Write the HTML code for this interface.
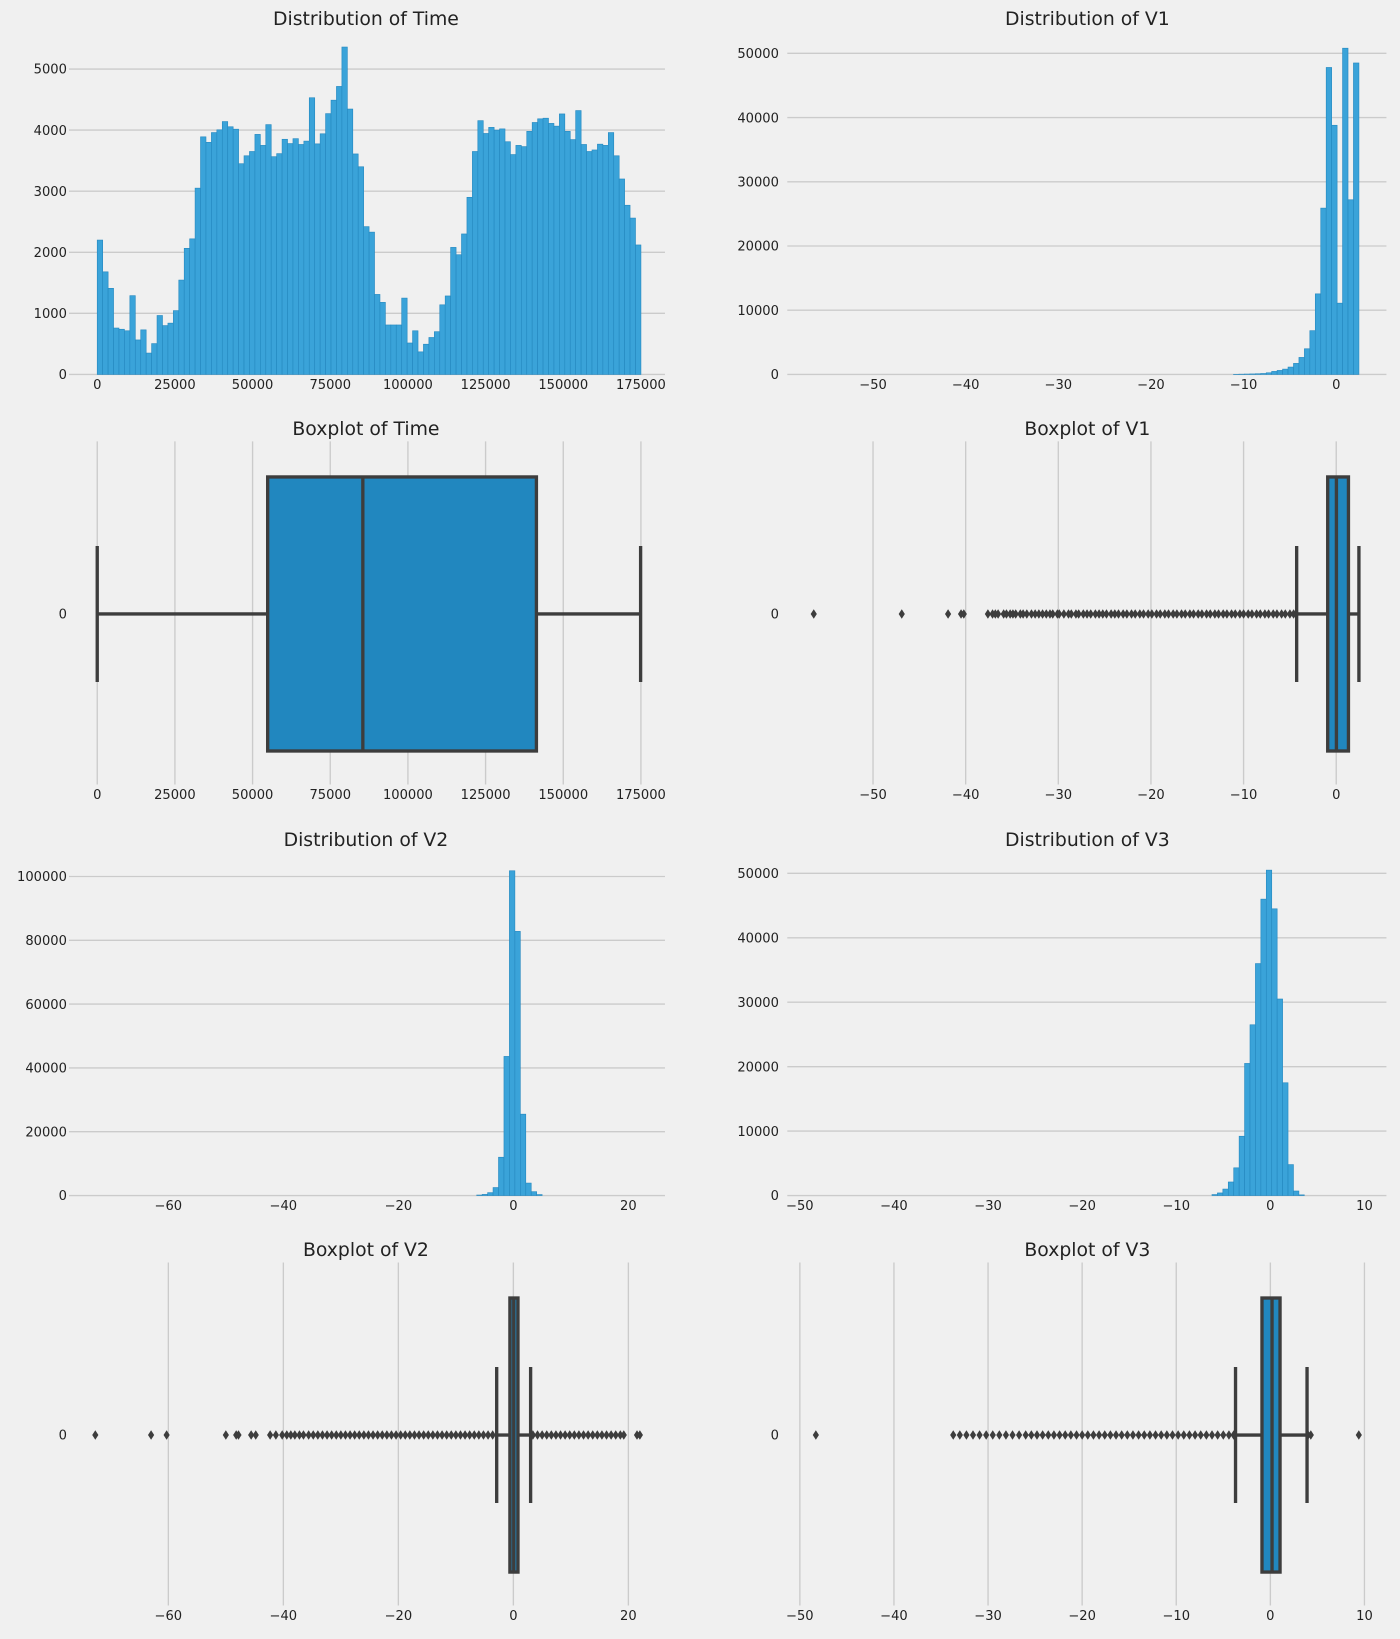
<!DOCTYPE html>
<html><head><meta charset="utf-8"><style>
html,body{margin:0;padding:0;background:#f0f0f0;}
svg{display:block;font-family:"DejaVu Sans","Liberation Sans",sans-serif;}
</style></head><body>
<svg id="chart" width="1400" height="1639" viewBox="0 0 1339 1567" preserveAspectRatio="none" xmlns="http://www.w3.org/2000/svg">
<rect x="0" y="0" width="1339" height="1567" fill="#f0f0f0"/>
</svg>
<script>
// ---- data ----
const timeCounts = [2200,1680,1410,760,740,715,1290,565,730,350,
505,965,800,840,1045,1545,2065,2220,3050,3890,
3800,3960,4005,4140,4055,4015,3450,3580,3650,3930,
3750,4090,3565,3615,3850,3780,3860,3765,3820,4530,
3775,3940,4270,4490,4715,5360,4345,3610,3400,2420,
2330,1310,1180,810,810,810,1250,515,715,370,
495,605,700,1140,1285,2080,1960,2300,2900,3650,
4155,3945,4045,4000,4020,3810,3600,3750,3730,3980,
4125,4185,4195,4110,4065,4265,3980,3845,4320,3765,
3650,3675,3770,3750,3960,3580,3200,2770,2560,2120];
const timeRange = [0, 175000];
const v1Counts = [0,0,0,0,0,0,0,0,0,0,
0,0,0,0,0,0,0,0,0,0,
0,0,0,0,0,0,0,0,0,0,
0,0,0,0,0,0,0,0,0,0,
0,0,0,0,0,0,0,0,0,0,
0,0,0,0,0,0,0,0,0,0,
0,0,0,0,0,0,0,0,0,0,
0,0,0,0,0,0,0,20,40,60,
80,110,150,260,470,625,830,1150,1720,2650,
4000,6820,12550,25900,47800,38800,11100,50800,27200,48500];
const v1Range = [-56.41, 2.45];
const v2Counts = [0,0,0,0,0,0,0,0,0,0,
0,0,0,0,0,0,0,0,0,0,
0,0,0,0,0,0,0,0,0,0,
0,0,0,0,0,0,0,0,0,0,
0,0,0,0,0,0,0,0,0,0,
0,0,0,0,0,0,0,0,0,0,
0,0,0,0,0,0,0,0,0,0,
150,350,900,2500,12000,43600,101800,82800,25500,3900,
1200,300,0,0,0,0,0,0,0,0,
0,0,0,0,0,0,0,0,0,0];
const v2Range = [-72.72, 22.06];
const v3Counts = [0,0,0,0,0,0,0,0,0,0,
0,0,0,0,0,0,0,0,0,0,
0,0,0,0,0,0,0,0,0,0,
0,0,0,0,0,0,0,0,0,0,
0,0,0,0,0,0,0,0,0,0,
0,0,0,0,0,0,0,0,0,0,
0,0,0,0,0,0,0,0,0,0,
0,0,0,150,400,1000,2100,4300,9200,20500,
26500,36000,46000,50500,44500,30500,17500,4800,700,100,
0,0,0,0,0,0,0,0,0,0];
const v3Range = [-48.33, 9.38];

const timeBox = [0, 54860, 85490, 141360, 174900];
const v1Box = [-4.27, -0.92, 0.02, 1.32, 2.45];
const v2Box = [-2.9, -0.6, 0.07, 0.8, 3.0];
const v3Box = [-3.7, -0.89, 0.18, 1.03, 3.9];

const v1Outliers = [-56.4,-46.9,-41.9,-40.5,-40.2,-37.6,-37.1,-36.8,-36.5,-35.9,-35.6,-35.2,-34.9,-34.6,-34.1,-33.8,-33.4,-32.9,-32.5,-32.1,-31.7,-31.3,-30.9,-30.6,-30.1,-29.9,-29.4,-28.9,-28.6,-28.1,-27.8,-27.3,-26.9,-26.5,-26.0,-25.6,-25.2,-24.8,-24.3,-23.9,-23.5,-23.0,-22.6,-22.1,-21.7,-21.2,-20.8,-20.3,-19.9,-19.4,-19.0,-18.5,-18.1,-17.6,-17.2,-16.7,-16.3,-15.8,-15.4,-14.9,-14.5,-14.0,-13.6,-13.1,-12.7,-12.2,-11.8,-11.3,-10.9,-10.4,-10.0,-9.5,-9.1,-8.6,-8.2,-7.7,-7.3,-6.8,-6.4,-5.9,-5.5,-5.0,-4.6];
const v2Outliers = [-72.7,-63.0,-60.3,-50.0,-48.2,-47.8,-45.6,-44.8,-42.3,-41.3,-40.2,-39.4,-38.7,-38.0,-37.2,-36.5,-35.6,-34.8,-34.0,-33.2,-32.4,-31.6,-30.8,-30.0,-29.2,-28.4,-27.6,-26.8,-26.0,-25.2,-24.4,-23.6,-22.8,-22.0,-21.2,-20.4,-19.6,-18.8,-18.0,-17.2,-16.4,-15.6,-14.8,-14.0,-13.2,-12.4,-11.6,-10.8,-10.0,-9.2,-8.4,-7.6,-6.8,-6.0,-5.2,-4.4,-3.6,3.4,4.2,5.0,5.8,6.6,7.4,8.2,9.0,9.8,10.6,11.4,12.2,13.0,13.8,14.6,15.4,16.2,17.0,17.8,18.6,19.2,21.5,22.0];
const v3Outliers = [-48.3,-33.7,-33.0,-32.3,-31.6,-30.9,-30.2,-29.5,-28.8,-28.1,-27.4,-26.7,-26.0,-25.4,-24.8,-24.2,-23.6,-23.0,-22.4,-21.8,-21.2,-20.6,-20.0,-19.4,-18.8,-18.2,-17.6,-17.0,-16.4,-15.8,-15.2,-14.6,-14.0,-13.4,-12.8,-12.2,-11.6,-11.0,-10.4,-9.8,-9.2,-8.6,-8.0,-7.4,-6.8,-6.2,-5.6,-5.0,-4.4,-3.9,4.0,4.3,9.4];

const timeXTicks = [0,25000,50000,75000,100000,125000,150000,175000];
const v1XTicks = [-50,-40,-30,-20,-10,0];
const v2XTicks = [-60,-40,-20,0,20];
const v3XTicks = [-50,-40,-30,-20,-10,0,10];
const timeYTicks = [0,1000,2000,3000,4000,5000];
const v1YTicks = [0,10000,20000,30000,40000,50000];
const v2YTicks = [0,20000,40000,60000,80000,100000];
const v3YTicks = [0,10000,20000,30000,40000,50000];

// ---- helpers ----
const NS = "http://www.w3.org/2000/svg";
const svg = document.getElementById('chart');
function mk(tag, attrs, parent){const e=document.createElementNS(NS,tag);for(const k in attrs)e.setAttribute(k,attrs[k]);(parent||svg).appendChild(e);return e;}
function lin(d0,d1,p0,p1){return v=>p0+(v-d0)/(d1-d0)*(p1-p0);}
function fmt(v){return (v<0?'\u2212':'')+Math.abs(v);}

const L=[66,636], R=[753,1326];
const xTime=lin(0,175000,93,613), xV1=lin(-50,0,835,1278), xV2=lin(-60,20,161,601), xV3=lin(-50,10,765,1305);

function title(text,cx,y,name){const t=mk('text',{x:cx,y:y,'text-anchor':'middle','font-size':18,fill:'#222'});t.textContent=text;

}

function hist(name,counts,range,xs,ys,ext,yTicks,xTicks,xLabY,yLabX){
  const g=mk('g',{});
  
  
  yTicks.forEach(v=>{
    const ln=mk('line',{x1:ext[0],x2:ext[1],y1:ys(v),y2:ys(v),stroke:'#cbcbcb','stroke-width':1.3},g);
    
    
    const t=mk('text',{x:yLabX,y:ys(v)+4.5,'text-anchor':'end','font-size':12.5,fill:'#222'},g);t.textContent=v;
    
    
  });
  const w=(range[1]-range[0])/counts.length;
  counts.forEach((c,i)=>{
    if(c<=0) return;
    const x0=xs(range[0]+i*w), x1=xs(range[0]+(i+1)*w);
    const y=ys(c);
    const r=mk('rect',{x:x0,y:y,width:Math.max(x1-x0,0.5),height:ys(0)-y,fill:'#3aa3d9',stroke:'#2589c0','stroke-width':0.6},g);
    
    
  });
  xTicks.forEach(v=>{
    const t=mk('text',{x:xs(v),y:xLabY,'text-anchor':'middle','font-size':12.5,fill:'#222'},g);t.textContent=fmt(v);
    
    
  });
}

function boxplot(name,box,outliers,xs,xTicks,cy,top,bottom,xLabY,yLabX){
  const g=mk('g',{});
  
  
  xTicks.forEach(v=>{
    const ln=mk('line',{x1:xs(v),x2:xs(v),y1:top,y2:bottom,stroke:'#cbcbcb','stroke-width':1.3},g);
    
    
    const t=mk('text',{x:xs(v),y:xLabY,'text-anchor':'middle','font-size':12.5,fill:'#222'},g);t.textContent=fmt(v);
    
    
  });
  const yl=mk('text',{x:yLabX,y:cy+4.5,'text-anchor':'end','font-size':12.5,fill:'#222'},g);yl.textContent='0';
  
  
  const col='#3d3d3d', lw=3.2, hb=131, hc=65;
  const w1=mk('line',{x1:xs(box[0]),x2:xs(box[1]),y1:cy,y2:cy,stroke:col,'stroke-width':lw},g);
  
  
  const w2=mk('line',{x1:xs(box[3]),x2:xs(box[4]),y1:cy,y2:cy,stroke:col,'stroke-width':lw},g);
  
  
  const c1=mk('line',{x1:xs(box[0]),x2:xs(box[0]),y1:cy-hc,y2:cy+hc,stroke:col,'stroke-width':lw},g);
  
  
  const c2=mk('line',{x1:xs(box[4]),x2:xs(box[4]),y1:cy-hc,y2:cy+hc,stroke:col,'stroke-width':lw},g);
  
  
  const b=mk('rect',{x:xs(box[1]),y:cy-hb,width:xs(box[3])-xs(box[1]),height:2*hb,fill:'#2187bf',stroke:col,'stroke-width':lw},g);
  
  
  const m=mk('line',{x1:xs(box[2]),x2:xs(box[2]),y1:cy-hb,y2:cy+hb,stroke:col,'stroke-width':lw},g);
  
  
  outliers.forEach(v=>{
    const x=xs(v);
    const p=mk('polygon',{points:`${x},${cy-4} ${x+2.6},${cy} ${x},${cy+4} ${x-2.6},${cy}`,fill:col,stroke:col,'stroke-width':0.6},g);
    
    
  });
}

// ---- panels ----
title('Distribution of Time',350,24,'title-distribution-time');
title('Distribution of V1',1040,24,'title-distribution-v1');
title('Boxplot of Time',350,416,'title-boxplot-time');
title('Boxplot of V1',1040,416,'title-boxplot-v1');
title('Distribution of V2',350,809,'title-distribution-v2');
title('Distribution of V3',1040,809,'title-distribution-v3');
title('Boxplot of V2',350,1201,'title-boxplot-v2');
title('Boxplot of V3',1040,1201,'title-boxplot-v3');

hist('histogram-time',timeCounts,timeRange,xTime,lin(0,5000,358,66),L,timeYTicks,timeXTicks,372,64);
hist('histogram-v1',v1Counts,v1Range,xV1,lin(0,50000,358,51),R,v1YTicks,v1XTicks,372,745);
hist('histogram-v2',v2Counts,v2Range,xV2,lin(0,100000,1143,838),L,v2YTicks,v2XTicks,1157,64);
hist('histogram-v3',v3Counts,v3Range,xV3,lin(0,50000,1143,835),R,v3YTicks,v3XTicks,1157,745);

boxplot('boxplot-time',timeBox,[],xTime,timeXTicks,587,422,750,764,64);
boxplot('boxplot-v1',v1Box,v1Outliers,xV1,v1XTicks,587,422,750,764,745);
boxplot('boxplot-v2',v2Box,v2Outliers,xV2,v2XTicks,1372,1207,1535,1549,64);
boxplot('boxplot-v3',v3Box,v3Outliers,xV3,v3XTicks,1372,1207,1535,1549,745);
</script>
</body></html>
